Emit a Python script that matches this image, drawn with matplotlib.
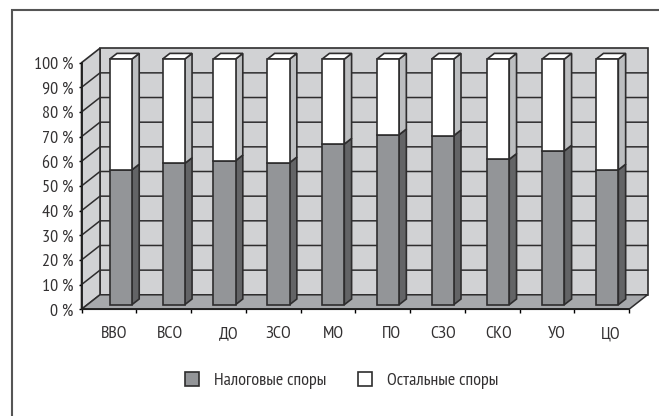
import numpy as np
import matplotlib
matplotlib.use('Agg')
import matplotlib.pyplot as plt
from matplotlib.patches import Polygon, Patch
from matplotlib.lines import Line2D
from matplotlib import font_manager as fm

# narrow face if the machine has one, plain Liberation otherwise
installed = {f.name for f in fm.fontManager.ttflist}
narrow = [n for n in ['PT Sans Narrow', 'Roboto Condensed', 'Liberation Sans Narrow'] if n in installed]
plt.rcParams['font.family'] = narrow[:1] + ['Liberation Sans', 'DejaVu Sans']

categories = ['ВВО', 'ВСО', 'ДО', 'ЗСО', 'МО', 'ПО', 'СЗО', 'СКО', 'УО', 'ЦО']
tax_disputes = [54.9, 57.5, 58.6, 57.8, 65.4, 69.2, 68.8, 59.2, 62.6, 54.9]
other_disputes = [100 - v for v in tax_disputes]
y_ticks = [0, 10, 20, 30, 40, 50, 60, 70, 80, 90, 100]
legend_labels = ['Налоговые споры', 'Остальные споры']

# print-shop irregularities in the original, in pixels
bar_nudge = [6.3, 4.4, 0.4, -0.3, -0.3, -0.3, -0.4, 0.4, 0.7, 0]
label_nudge = [5.5, 6, 10.7, 5, 6, 8.5, 6, 6.4, 10, 9]

W, H = 659, 416
FS = 13
EDGE = '#2e2d2e'
WALL = '#d1d2d4'
FLOOR = '#a7a9ac'
DARK = '#939598'
DARK_SIDE = '#636466'
LIGHT_SIDE = '#bcbec0'
TEXT = '#333132'

fig = plt.figure(figsize=(W / 100, H / 100), dpi=100)
ax = fig.add_axes([81.5 / W, 1 - 309.3 / H, 547.5 / W, 246.6 / H])
ax.set_xlim(-0.5, 9.5)
ax.set_ylim(0, 100)

px_x = 547.5 / 10  # px per category
px_y = 246.6 / 100  # px per percent
dx = 18.5 / px_x
dy = 14.5 / px_y
x0, x1 = -0.5, 9.5


def poly(pts, face, z, lw=1.2):
    ax.add_patch(Polygon(pts, closed=True, facecolor=face, edgecolor=EDGE,
                         linewidth=lw, zorder=z, clip_on=False, joinstyle='miter'))


# walls and floor
poly([(x0 + dx, dy), (x1 + dx, dy), (x1 + dx, 100 + dy), (x0 + dx, 100 + dy)], WALL, 1)
poly([(x0, 0), (x0 + dx, dy), (x0 + dx, 100 + dy), (x0, 100)], WALL, 1)
for v in y_ticks[1:-1]:
    ax.plot([x0, x0 + dx, x1 + dx], [v, v + dy, v + dy], color=EDGE, lw=1.1, zorder=2, clip_on=False)
poly([(x0, 0), (x1, 0), (x1 + dx, dy), (x0 + dx, dy)], FLOOR, 3, lw=1.1)

# bars
bw = 22.2 / px_x
f0 = 0.317
ddx = 7.3 / px_x
ddy = 5.7 / px_y
base = f0 * dy
for i, (tax, other) in enumerate(zip(tax_disputes, other_disputes)):
    left = i - 0.5 + (21.9 + bar_nudge[i]) / px_x
    right = left + bw
    mid = base + tax * 0.996
    top = base + (tax + other) * 0.996
    z = 4 + i
    poly([(right, base), (right + ddx, base + ddy), (right + ddx, mid + ddy), (right, mid)], DARK_SIDE, z)
    poly([(right, mid), (right + ddx, mid + ddy), (right + ddx, top + ddy), (right, top)], LIGHT_SIDE, z)
    poly([(left, top), (right, top), (right + ddx, top + ddy), (left + ddx, top + ddy)], 'white', z)
    poly([(left, base), (right, base), (right, mid), (left, mid)], DARK, z)
    poly([(left, mid), (right, mid), (right, top), (left, top)], 'white', z)

# axes
for s in ['top', 'right']:
    ax.spines[s].set_visible(False)
for s in ['left', 'bottom']:
    ax.spines[s].set_linewidth(1.3)
    ax.spines[s].set_color('#1f1f1f')
    ax.spines[s].set_zorder(20)
ax.patch.set_visible(False)
ax.set_yticks(y_ticks)
ax.set_yticklabels([f'{v} %' for v in y_ticks], fontsize=FS, color=TEXT)
ax.set_xticks(np.arange(11) - 0.5)
ax.set_xticklabels([])
ax.tick_params(axis='y', length=2.5, width=1, pad=3)
ax.tick_params(axis='x', length=3, width=1)
for i, c in enumerate(categories):
    ax.annotate(c, xy=(i, 0), xycoords=('data', 'axes fraction'),
                xytext=(label_nudge[i] * 0.72, -21), textcoords='offset points',
                ha='center', va='baseline', fontsize=FS, color=TEXT)

handles = [Patch(facecolor=DARK, edgecolor=EDGE, linewidth=1.2),
           Patch(facecolor='white', edgecolor=EDGE, linewidth=1.2)]
fig.legend(handles, legend_labels, loc='center', bbox_to_anchor=(341.5 / W, 1 - 380.5 / H),
           ncol=2, frameon=False, fontsize=FS, handlelength=0.78, handleheight=0.78,
           handletextpad=0.83, columnspacing=1.75, borderpad=0, labelcolor=TEXT)

# page frame, left and top only
fig.add_artist(Line2D([12.3 / W, 12.3 / W, 658 / W], [0, 1 - 9.7 / H, 1 - 9.7 / H],
                      color='#555555', lw=1.5, solid_joinstyle='miter'))

fig.savefig('out.png', dpi=100)
